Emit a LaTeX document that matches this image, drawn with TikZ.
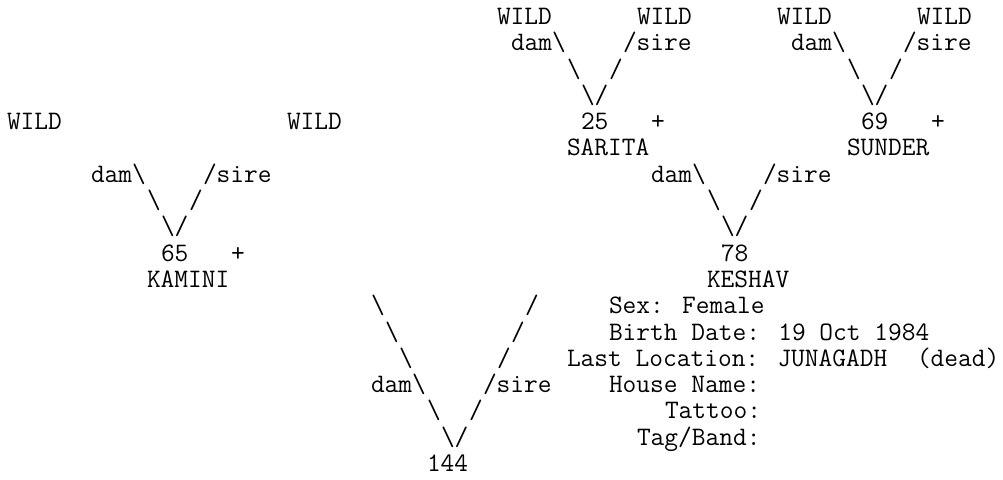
\documentclass[tikz,border=0pt]{standalone}
\usepackage{fontspec}
\tikzset{
  asc/.style={anchor=base west, inner sep=0pt, outer sep=0pt,
    font=\ttfamily\fontsize{13.33pt}{13.15pt}\selectfont},
}
\newcommand{\bsl}{\textbackslash}
\begin{document}
\begin{tikzpicture}
  \useasboundingbox (0,0) rectangle (501.5pt,-240pt);
  \begin{scope}[shift={(3.5pt,-12.25pt)}, x=7pt, y=-13.15pt]
  % Parents of SARITA and SUNDER
  \node[asc] (sarw1) at (35,0) {WILD};
  \node[asc] (sarw2) at (45,0) {WILD};
  \node[asc] (sunw1) at (55,0) {WILD};
  \node[asc] (sunw2) at (65,0) {WILD};
  \node[asc] (sard) at (36,1) {dam\bsl};
  \node[asc] (sars) at (44,1) {/sire};
  \node[asc] (sund) at (56,1) {dam\bsl};
  \node[asc] (suns) at (64,1) {/sire};
  \node[asc] (sarl1) at (40,2) {\bsl};
  \node[asc] (sarr1) at (43,2) {/};
  \node[asc] (sunl1) at (60,2) {\bsl};
  \node[asc] (sunr1) at (63,2) {/};
  \node[asc] (sarv) at (41,3) {\bsl/};
  \node[asc] (sunv) at (61,3) {\bsl/};

  % Parents of KAMINI
  \node[asc] (kamw1) at (0,4) {WILD};
  \node[asc] (kamw2) at (20,4) {WILD};
  \node[asc] (sarid) at (41,4) {25};
  \node[asc] (sarplus) at (46,4) {+};
  \node[asc] (sunid) at (61,4) {69};
  \node[asc] (sunplus) at (66,4) {+};
  \node[asc] (sarname) at (40,5) {SARITA};
  \node[asc] (sunname) at (60,5) {SUNDER};

  \node[asc] (kamd) at (6,6) {dam\bsl};
  \node[asc] (kams) at (14,6) {/sire};
  \node[asc] (kesd) at (46,6) {dam\bsl};
  \node[asc] (kess) at (54,6) {/sire};
  \node[asc] (kaml1) at (10,7) {\bsl};
  \node[asc] (kamr1) at (13,7) {/};
  \node[asc] (kesl1) at (50,7) {\bsl};
  \node[asc] (kesr1) at (53,7) {/};
  \node[asc] (kamv) at (11,8) {\bsl/};
  \node[asc] (kesv) at (51,8) {\bsl/};
  \node[asc] (kamid) at (11,9) {65};
  \node[asc] (kamplus) at (16,9) {+};
  \node[asc] (kesid) at (51,9) {78};
  \node[asc] (kamname) at (10,10) {KAMINI};
  \node[asc] (kesname) at (50,10) {KESHAV};

  % Subject 144 and its details
  \node[asc] (subl1) at (26,11) {\bsl};
  \node[asc] (subr1) at (37,11) {/};
  \node[asc] (sex) at (43,11) {Sex: Female};
  \node[asc] (subl2) at (27,12) {\bsl};
  \node[asc] (subr2) at (36,12) {/};
  \node[asc] (birth) at (43,12) {Birth Date: 19 Oct 1984};
  \node[asc] (subl3) at (28,13) {\bsl};
  \node[asc] (subr3) at (35,13) {/};
  \node[asc] (loc) at (40,13) {Last Location: JUNAGADH};
  \node[asc] (dead) at (65,13) {(dead)};
  \node[asc] (subd) at (26,14) {dam\bsl};
  \node[asc] (subs) at (34,14) {/sire};
  \node[asc] (house) at (43,14) {House Name:};
  \node[asc] (subl4) at (30,15) {\bsl};
  \node[asc] (subr4) at (33,15) {/};
  \node[asc] (tattoo) at (47,15) {Tattoo:};
  \node[asc] (subv) at (31,16) {\bsl/};
  \node[asc] (tag) at (45,16) {Tag/Band:};
  \node[asc] (subid) at (30,17) {144};
  \end{scope}
\end{tikzpicture}
\end{document}
